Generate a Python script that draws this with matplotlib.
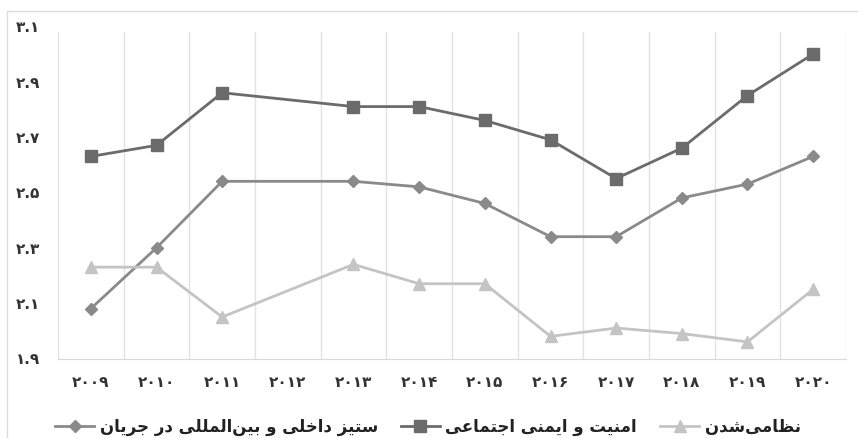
import numpy as np
import matplotlib
matplotlib.use("Agg")
import matplotlib.pyplot as plt
from matplotlib.patches import Rectangle

years = [2009, 2010, 2011, 2012, 2013, 2014, 2015, 2016, 2017, 2018, 2019, 2020]
conflict = [2.08, 2.30, 2.54, np.nan, 2.54, 2.52, 2.46, 2.34, 2.34, 2.48, 2.53, 2.63]
security = [2.63, 2.67, 2.86, np.nan, 2.81, 2.81, 2.76, 2.69, 2.55, 2.66, 2.85, 3.00]
militarization = [2.23, 2.23, 2.05, np.nan, 2.24, 2.17, 2.17, 1.98, 2.01, 1.99, 1.96, 2.15]
y_ticks = [1.9, 2.1, 2.3, 2.5, 2.7, 2.9, 3.1]

label_conflict = "ستیز داخلی و بین‌المللی در جریان"
label_security = "امنیت و ایمنی اجتماعی"
label_military = "نظامی‌شدن"

FA_DIGITS = str.maketrans("0123456789", "۰۱۲۳۴۵۶۷۸۹")

# presentation forms: isolated, final, initial, medial
FORMS = {
    "ا": ("\uFE8D", "\uFE8E", None, None),
    "ب": ("\uFE8F", "\uFE90", "\uFE91", "\uFE92"),
    "ت": ("\uFE95", "\uFE96", "\uFE97", "\uFE98"),
    "ج": ("\uFE9D", "\uFE9E", "\uFE9F", "\uFEA0"),
    "خ": ("\uFEA5", "\uFEA6", "\uFEA7", "\uFEA8"),
    "د": ("\uFEA9", "\uFEAA", None, None),
    "ر": ("\uFEAD", "\uFEAE", None, None),
    "ز": ("\uFEAF", "\uFEB0", None, None),
    "س": ("\uFEB1", "\uFEB2", "\uFEB3", "\uFEB4"),
    "ش": ("\uFEB5", "\uFEB6", "\uFEB7", "\uFEB8"),
    "ظ": ("\uFEC5", "\uFEC6", "\uFEC7", "\uFEC8"),
    "ع": ("\uFEC9", "\uFECA", "\uFECB", "\uFECC"),
    "ل": ("\uFEDD", "\uFEDE", "\uFEDF", "\uFEE0"),
    "م": ("\uFEE1", "\uFEE2", "\uFEE3", "\uFEE4"),
    "ن": ("\uFEE5", "\uFEE6", "\uFEE7", "\uFEE8"),
    "و": ("\uFEED", "\uFEEE", None, None),
    "ی": ("\uFBFC", "\uFBFD", "\uFBFE", "\uFBFF"),
}


def shape(text):
    # join letters and put them in visual (left-to-right) order
    out = []
    for i, c in enumerate(text):
        if c not in FORMS:
            if c != "\u200c":
                out.append(c)
            continue
        iso, fin, ini, med = FORMS[c]
        prev = text[i - 1] if i > 0 else ""
        nxt = text[i + 1] if i + 1 < len(text) else ""
        join_prev = prev in FORMS and FORMS[prev][2] is not None
        join_next = ini is not None and nxt in FORMS
        if join_prev and join_next:
            out.append(med)
        elif join_prev:
            out.append(fin)
        elif join_next:
            out.append(ini)
        else:
            out.append(iso)
    return "".join(reversed(out))


plt.rcParams["font.family"] = ["DejaVu Sans"]

fig = plt.figure(figsize=(8.58, 4.38), dpi=100)
fig.patch.set_facecolor("white")
fig.add_artist(Rectangle((7 / 858, -0.1), 1.0, 1.1 - 11 / 438, transform=fig.transFigure,
                         fill=False, edgecolor="#dcdcdc", linewidth=1.0))

ax = fig.add_axes([58 / 858, 1 - 358.5 / 438, 788 / 858, (358.5 - 26.3) / 438])
x = np.arange(len(years))

for i in range(len(years) + 1):
    ax.axvline(i - 0.5, ymin=0, ymax=0.983, color="#e2e2e2", linewidth=1.0, zorder=0)


def draw(values, color, marker, ms, label):
    v = np.array(values, dtype=float)
    m = ~np.isnan(v)
    return ax.plot(x[m], v[m], color=color, marker=marker, markersize=ms,
                   linewidth=2.0, label=label, zorder=3)[0]


h_conf = draw(conflict, "#8a8a8a", "D", 6, shape(label_conflict))
h_sec = draw(security, "#6b6b6b", "s", 8, shape(label_security))
h_mil = draw(militarization, "#c4c4c4", "^", 8.5, shape(label_military))

ax.set_xlim(-0.5, len(years) - 0.5)
ax.set_ylim(1.9, 3.1)
ax.set_xticks(x)
ax.set_xticklabels([str(y).translate(FA_DIGITS) for y in years],
                   fontsize=11, fontweight="bold", color="#333333")
ax.set_yticks(y_ticks)
ax.set_yticklabels([f"{t:.1f}".translate(FA_DIGITS) for t in y_ticks],
                   fontsize=11, fontweight="bold", color="#333333")
ax.tick_params(axis="x", length=0, pad=12)
ax.tick_params(axis="y", length=0, pad=13)
for side in ["top", "right", "left"]:
    ax.spines[side].set_visible(False)
ax.spines["bottom"].set_color("#d9d9d9")

fig.legend(handles=[h_conf, h_sec, h_mil], loc="center", bbox_to_anchor=(428 / 858, 1 - 427 / 438),
           ncol=3, frameon=False, handlelength=2.3, handletextpad=0.35, columnspacing=1.4,
           prop={"size": 12, "weight": "bold"}, labelcolor="#222222")

fig.savefig("out.png", dpi=100)
